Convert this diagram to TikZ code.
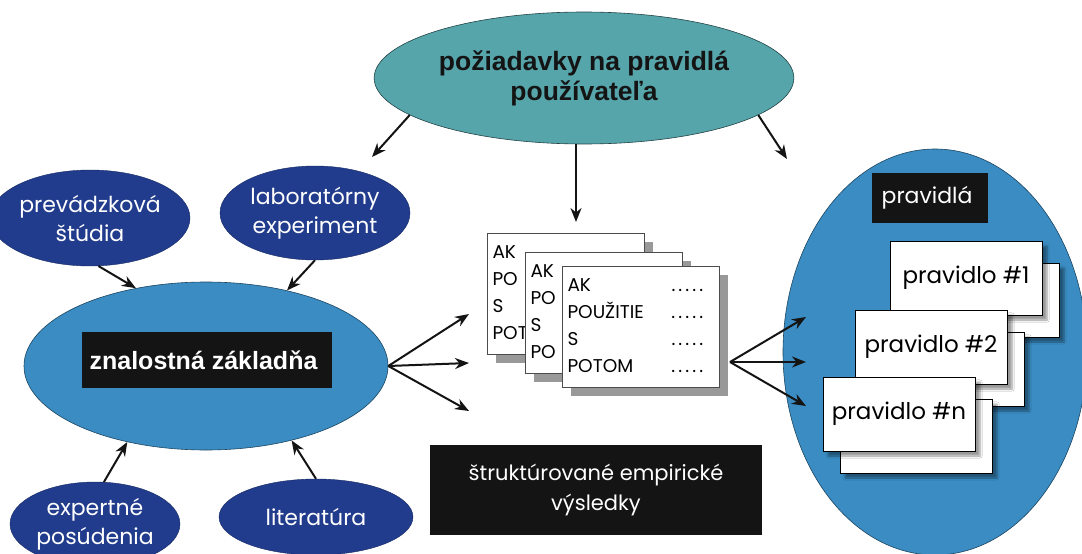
\documentclass[tikz,border=0pt]{standalone}
\usepackage{fontspec}
\setmainfont{Liberation Sans}
\newfontfamily\gothic{Poppins}
\usetikzlibrary{
shapes.geometric,
shadows,
shadows.blur,
arrows.meta
}
\definecolor{lagoon}{HTML}{55A5AB}
\definecolor{ocean}{HTML}{3A8CC2}
\definecolor{navy}{HTML}{213C8C}
\definecolor{ink}{HTML}{141414}

\tikzset{
source/.style={
ellipse,
fill=navy,
draw=navy!70!black,
text=white,
align=center,
inner sep=0pt,
font=\gothic\fontsize{22}{29}\selectfont
},
hub/.style={
ellipse,
fill=ocean,
draw=ocean!50!black,
line width=0.6pt,
inner sep=0pt
},
blackbox/.style={
rectangle,
fill=ink,
text=white,
align=center,
inner sep=0pt
},
card/.style={
rectangle,
draw=black!70,
fill=white,
line width=0.8pt,
minimum width=157pt,
minimum height=121pt,
text width=147pt,
align=left,
drop shadow={shadow xshift=8pt,shadow yshift=-8pt,fill=black!40,opacity=1},
font=\gothic\fontsize{18.5}{27}\selectfont
},
rulecard/.style={
rectangle,
draw=black,
fill=white,
line width=1pt,
minimum width=152pt,
minimum height=74pt,
blur shadow={shadow xshift=5pt,shadow yshift=-5pt,shadow blur steps=6},
font=\gothic\fontsize{23}{26}\selectfont
},
flow/.style={
-{Stealth[length=14pt,width=11pt]},
line width=2pt,
draw=ink
}
}

\newcommand{\cardlines}[1]{%
\begin{tabular}{@{}p{92pt}l@{}}
#1
\end{tabular}}
\newcommand{\dotrow}{.\,.\,.\,.\,.}

\begin{document}
\begin{tikzpicture}[x=1pt,y=-1pt]
\useasboundingbox (0,0) rectangle (1082,554);

\node[
ellipse,
fill=lagoon,
draw=lagoon!40!black,
line width=0.6pt,
minimum width=410pt,
minimum height=132pt,
align=center,
text=ink,
font=\bfseries\fontsize{26.5}{30}\selectfont
] (req) at (584,78)
{
požiadavky na pravidlá\\používateľa
};

\node[hub, minimum width=364pt, minimum height=168pt] (kb) at (206,366) {};
\node[
blackbox,
minimum width=250pt,
minimum height=56pt,
font=\bfseries\fontsize{25}{28}\selectfont
] (kbtitle) at (207,360)
{
znalostná základňa
};

\node[source, minimum width=160pt, minimum height=96pt] (prev) at (90,218) {prevádzková\\štúdia};
\node[source, minimum width=190pt, minimum height=94pt] (lab) at (315,213) {laboratórny\\experiment};
\node[source, minimum width=170pt, minimum height=84pt] (expert) at (95,524) {expertné\\posúdenia};
\node[source, minimum width=194pt, minimum height=76pt] (lit) at (316,517) {literatúra};

\node[card] (cardA) at (566,294) {\cardlines{AK\\ PO\\ S\\ POT}};
\node[card] (cardB) at (604,313) {\cardlines{AK\\ PO\\ S\\ PO}};
\node[card] (cardC) at (641,327)
{\cardlines{AK & \dotrow\\ POUŽITIE & \dotrow\\ S & \dotrow\\ POTOM & \dotrow}};

\node[
blackbox,
minimum width=332pt,
minimum height=90pt,
font=\gothic\fontsize{21}{30}\selectfont
] (results) at (596,490)
{
štruktúrované empirické\\výsledky
};

\node[hub, minimum width=304pt, minimum height=406pt] (rules) at (935,352) {};
\node[
blackbox,
minimum width=116pt,
minimum height=50pt,
font=\gothic\fontsize{22}{26}\selectfont
] (rulestitle) at (930,198)
{
pravidlá
};

\node[rulecard] (back1) at (983,300) {};
\node[rulecard] (rule1) at (966,278) {pravidlo \#1};
\node[rulecard] (back2) at (948,369) {};
\node[rulecard] (rule2) at (931,347) {pravidlo \#2};
\node[rulecard] (backn) at (916,436) {};
\node[rulecard] (rulen) at (899,414) {pravidlo \#n};

\coordinate (toleft) at (372,157);
\coordinate (tocards) at (576,222);
\coordinate (toright) at (787,159);
\coordinate (inA) at (469,314);
\coordinate (inB) at (469,363);
\coordinate (inC) at (469,411);
\coordinate (fork) at (730,362);
\coordinate (outA) at (806,317);
\coordinate (outB) at (806,362);
\coordinate (outC) at (806,406);

\draw[flow] (req.192) -- (toleft);
\draw[flow] (req.south -| tocards) -- (tocards);
\draw[flow] (req.-12) -- (toright);

\draw[flow] (prev.-80) -- (kb.132);
\draw[flow] (lab.south) -- (kb.43);
\draw[flow] (expert.78) -- (kb.224);
\draw[flow] (lit.north) -- (kb.319);

\draw[flow] (kb.east) -- (inA);
\draw[flow] (kb.east) -- (inB);
\draw[flow] (kb.east) -- (inC);

\draw[flow] (fork) -- (outA);
\draw[flow] (fork) -- (outB);
\draw[flow] (fork) -- (outC);

\end{tikzpicture}
\end{document}
